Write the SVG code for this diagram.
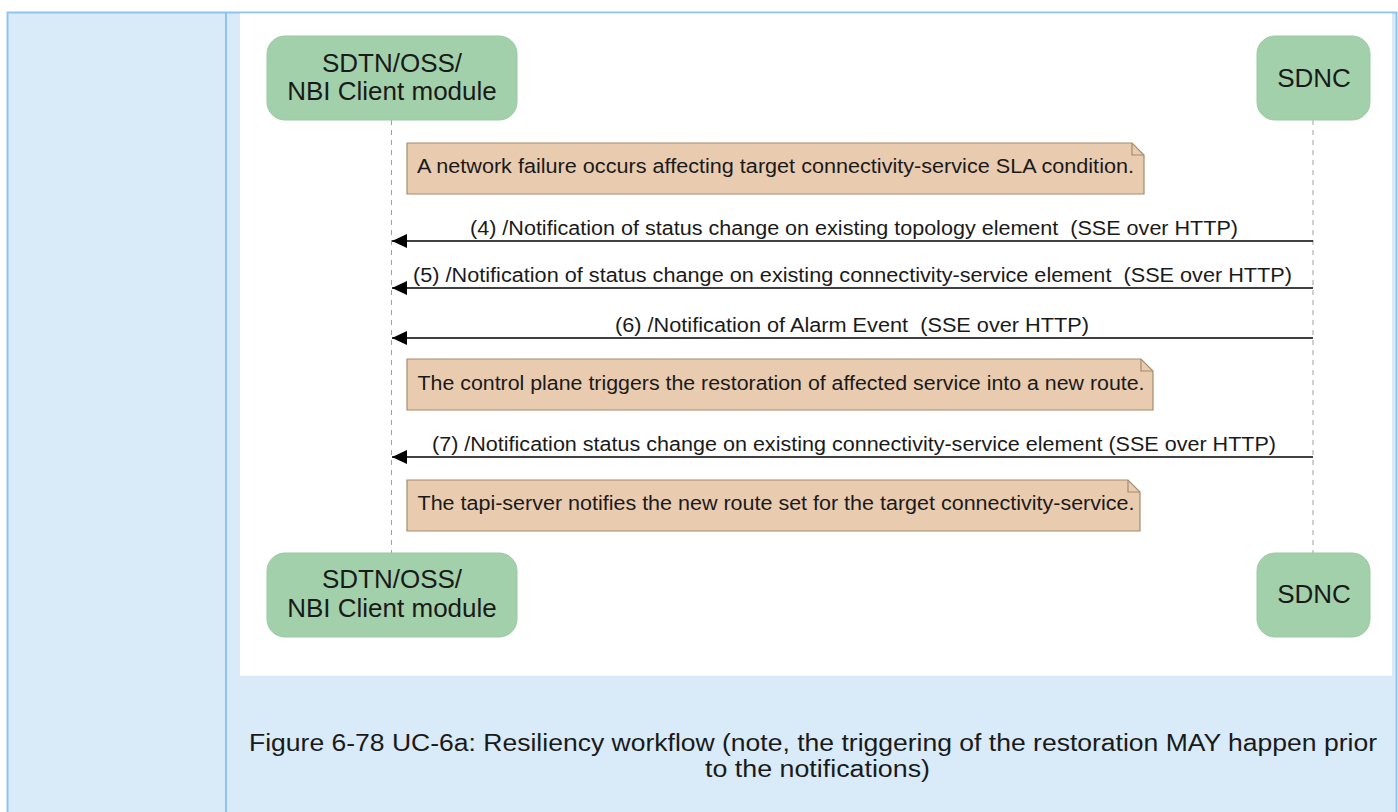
<svg xmlns="http://www.w3.org/2000/svg" width="1398" height="812" viewBox="0 0 1398 812">
<style>
.t{font-family:"Liberation Sans",Arial,sans-serif;fill:#1a1a1a;white-space:pre}
.node rect{fill:#a2d0aa;stroke:#9bc9a3;stroke-width:1}
.nt{font-size:26px;text-anchor:middle}
.lbl{font-size:20px;text-anchor:middle}
.nt2{font-size:20px}
.cap{font-size:23px;text-anchor:middle}
.note path.b{fill:#e9cbb0;stroke:#a68c6e;stroke-width:1.2}
.note path.f{fill:none;stroke:#a68c6e;stroke-width:1.2}
.life{stroke:#a0a0a0;stroke-width:1;stroke-dasharray:5,5}
.msg{stroke:#000;stroke-width:1.5;fill:none}
</style>
<defs>
<marker id="ah" markerWidth="16" markerHeight="14" refX="15" refY="7" orient="auto" markerUnits="userSpaceOnUse">
<path d="M15,7 L0,0 L0,14 Z" fill="#000"/>
</marker>
</defs>
<rect x="0" y="0" width="1398" height="812" fill="#ffffff"/>
<rect x="7.5" y="12.5" width="1389" height="810" fill="#d9eaf8" stroke="#8ec5f0" stroke-width="2"/>
<line x1="226" y1="12" x2="226" y2="812" stroke="#8ec5f0" stroke-width="2"/>
<rect x="240" y="13.5" width="1152" height="662.5" fill="#ffffff"/>

<g id="lifelines">
<line class="life" x1="391.5" y1="120" x2="391.5" y2="553"/>
<line class="life" x1="1313" y1="120" x2="1313" y2="553"/>
</g>

<g id="node-client-top" class="node">
<rect x="267" y="36" width="250" height="84" rx="18"/>
<text class="t nt" x="392" y="72">SDTN/OSS/</text>
<text class="t nt" x="392" y="100">NBI Client module</text>
</g>
<g id="node-sdnc-top" class="node">
<rect x="1257" y="36" width="113" height="84" rx="18"/>
<text class="t nt" x="1314" y="87">SDNC</text>
</g>
<g id="node-client-bottom" class="node">
<rect x="267" y="553" width="250" height="84" rx="18"/>
<text class="t nt" x="392" y="588">SDTN/OSS/</text>
<text class="t nt" x="392" y="617">NBI Client module</text>
</g>
<g id="node-sdnc-bottom" class="node">
<rect x="1257" y="553" width="113" height="84" rx="18"/>
<text class="t nt" x="1314" y="603">SDNC</text>
</g>

<g id="note-1" class="note">
<path class="b" d="M407,143 H1132 L1144,155 V194 H407 Z"/>
<path class="f" d="M1132,143 V155 H1144"/>
<text class="t nt2" x="417" y="173" textLength="717" lengthAdjust="spacingAndGlyphs">A network failure occurs affecting target connectivity-service SLA condition.</text>
</g>
<g id="note-2" class="note">
<path class="b" d="M407,359 H1141 L1153,371 V410 H407 Z"/>
<path class="f" d="M1141,359 V371 H1153"/>
<text class="t nt2" x="417.5" y="390" textLength="727" lengthAdjust="spacingAndGlyphs">The control plane triggers the restoration of affected service into a new route.</text>
</g>
<g id="note-3" class="note">
<path class="b" d="M407,480 H1128 L1140,492 V531 H407 Z"/>
<path class="f" d="M1128,480 V492 H1140"/>
<text class="t nt2" x="417.5" y="510" textLength="717" lengthAdjust="spacingAndGlyphs">The tapi-server notifies the new route set for the target connectivity-service.</text>
</g>

<g id="connectors">
<line class="msg" x1="1313" y1="241" x2="392" y2="241" marker-end="url(#ah)"/>
<text class="t lbl" x="854" y="235" textLength="768" lengthAdjust="spacingAndGlyphs">(4) /Notification of status change on existing topology element  (SSE over HTTP)</text>
<line class="msg" x1="1313" y1="288" x2="392" y2="288" marker-end="url(#ah)"/>
<text class="t lbl" x="852.5" y="282" textLength="879" lengthAdjust="spacingAndGlyphs">(5) /Notification of status change on existing connectivity-service element  (SSE over HTTP)</text>
<line class="msg" x1="1313" y1="338" x2="392" y2="338" marker-end="url(#ah)"/>
<text class="t lbl" x="852" y="332" textLength="474" lengthAdjust="spacingAndGlyphs">(6) /Notification of Alarm Event  (SSE over HTTP)</text>
<line class="msg" x1="1313" y1="457" x2="392" y2="457" marker-end="url(#ah)"/>
<text class="t lbl" x="854" y="451" textLength="844" lengthAdjust="spacingAndGlyphs">(7) /Notification status change on existing connectivity-service element (SSE over HTTP)</text>
</g>

<g id="caption">
<text class="t cap" x="813" y="751" textLength="1128" lengthAdjust="spacingAndGlyphs">Figure 6-78 UC-6a: Resiliency workflow (note, the triggering of the restoration MAY happen prior</text>
<text class="t cap" x="817.5" y="777" textLength="225" lengthAdjust="spacingAndGlyphs">to the notifications)</text>
</g>
</svg>
